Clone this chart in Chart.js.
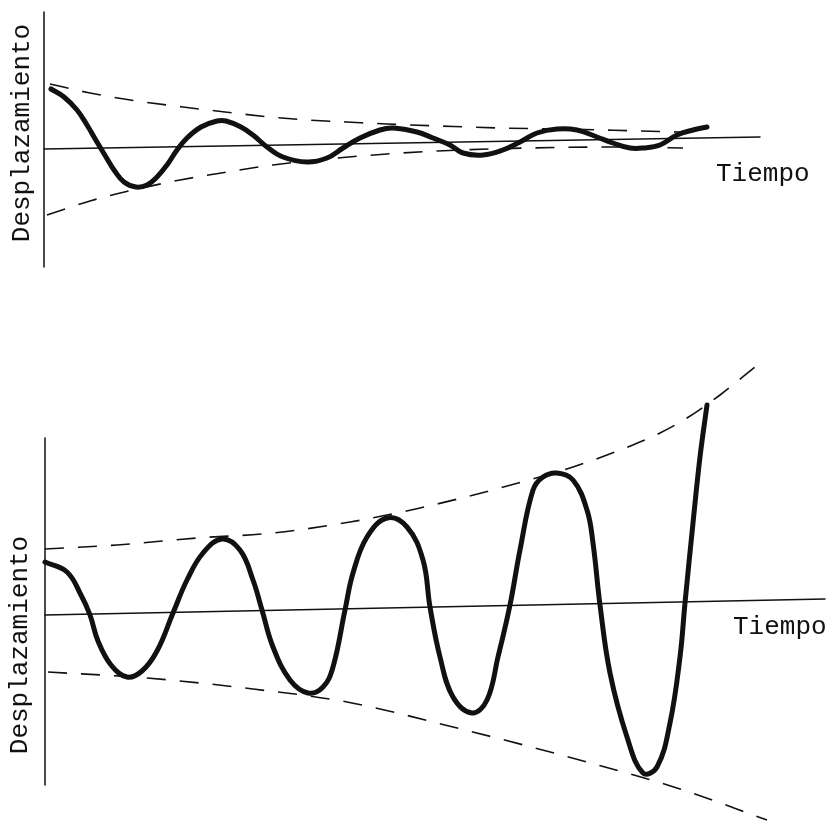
<!DOCTYPE html>
<html lang="es">
<head>
<meta charset="utf-8">
<title>Desplazamiento frente a tiempo</title>
<script src="https://cdn.jsdelivr.net/npm/chart.js@4.4.1/dist/chart.umd.min.js"></script>
<style>
  html, body { margin: 0; padding: 0; background: #fff; }
  #wrap { position: relative; width: 832px; height: 828px; }
  canvas { position: absolute; left: 0; }
  #topChart { top: 0; }
  #bottomChart { top: 300px; }
</style>
</head>
<body>
<div id="wrap">
  <canvas id="topChart" width="832" height="300"></canvas>
  <canvas id="bottomChart" width="832" height="528"></canvas>
</div>
<script>
// --- panel de arriba: oscilación amortiguada ---
const dampedT = [7, 20, 33, 43, 53, 62, 70, 80, 92, 103, 113, 123, 133, 143, 157, 173, 182, 197, 209, 223, 239, 263, 283, 299, 316, 336, 349, 373, 389, 406, 419, 439, 459, 476, 493, 513, 533, 553, 569, 586, 599, 616, 633, 649, 663];
const dampedD = [60, 52, 39, 24, 7, -8, -21, -33, -38, -36, -28, -16, -1, 11, 22, 28, 28, 22, 14, 2, -8, -13, -9, 1, 11, 19, 21, 17, 11, 4, -4, -6, -1, 7, 16, 20, 19, 12, 6, 1, 1, 4, 14, 19, 22];
const dampedUpperT = [6, 46, 93, 139, 181, 226, 263, 303, 343, 396, 456, 516, 596, 636];
const dampedUpperD = [65, 56, 48, 42, 37, 32, 29, 27, 25, 23, 21, 20, 18, 17];
const dampedLowerT = [3, 46, 89, 136, 183, 229, 293, 343, 393, 484, 566, 639];
const dampedLowerD = [-66, -52, -41, -31, -23, -16, -9, -5, -2, 1, 2, 1];
const topAxisT = [0, 0];
const topAxisD = [137, -118];
const topZeroT = [0, 716];
const topZeroD = [0, 12];

// --- panel de abajo: oscilación creciente ---
const growT = [0, 22, 36, 45, 53, 66, 82, 97, 112, 128, 142, 158, 177, 195, 208, 217, 228, 245, 263, 278, 288, 300, 308, 322, 342, 362, 378, 385, 395, 408, 427, 442, 453, 465, 475, 488, 498, 512, 528, 542, 548, 555, 565, 582, 598, 612, 625, 635, 640, 648, 655, 662];
const growD = [53, 43, 20, 0, -26, -50, -62, -56, -36, 2, 35, 62, 76, 65, 35, 5, -32, -65, -78, -72, -52, 5, 42, 78, 97, 88, 55, 8, -42, -82, -98, -85, -42, 10, 65, 125, 138, 142, 135, 105, 72, 10, -58, -122, -158, -152, -108, -42, 12, 92, 158, 210];
const growUpperT = [0, 72, 152, 228, 305, 375, 455, 528, 575, 615, 642, 675, 710];
const growUpperD = [66, 70, 77, 82, 93, 107, 127, 148, 165, 182, 197, 220, 248];
const growLowerT = [3, 102, 208, 302, 408, 542, 635, 722];
const growLowerD = [-57, -63, -74, -87, -112, -147, -174, -205];
const bottomAxisT = [0, 0];
const bottomAxisD = [177, -170];
const bottomZeroT = [0, 780];
const bottomZeroD = [0, 16];

const ink = '#111';

function pts(ts, ds) {
  return ts.map((t, i) => ({ x: t, y: ds[i] }));
}

function solid(ts, ds, width, smooth) {
  const d = {
    data: pts(ts, ds),
    borderColor: ink,
    borderWidth: width,
    pointRadius: 0,
    fill: false,
    tension: 0,
    borderCapStyle: 'round',
    borderJoinStyle: 'round',
    clip: false
  };
  if (smooth === 'monotone') d.cubicInterpolationMode = 'monotone';
  else if (smooth) d.tension = smooth;
  return d;
}

function dashed(ts, ds) {
  const d = solid(ts, ds, 1.6, 'monotone');
  d.borderDash = [19, 14];
  d.borderCapStyle = 'butt';
  return d;
}

// textos dibujados en coordenadas de datos
const textLabels = {
  id: 'textLabels',
  afterDatasetsDraw(chart, args, opts) {
    const { ctx, scales: { x, y } } = chart;
    ctx.save();
    ctx.fillStyle = ink;
    ctx.font = opts.font;
    ctx.textBaseline = 'middle';
    (opts.items || []).forEach(item => {
      ctx.save();
      ctx.translate(x.getPixelForValue(item.t), y.getPixelForValue(item.d));
      if (item.rotate) ctx.rotate(item.rotate);
      ctx.textAlign = item.align || 'left';
      ctx.fillText(item.text, 0, 0);
      ctx.restore();
    });
    ctx.restore();
  }
};

function makeChart(id, datasets, xr, yr, items) {
  return new Chart(document.getElementById(id), {
    type: 'line',
    data: { datasets },
    options: {
      responsive: false,
      animation: false,
      events: [],
      layout: { padding: 0 },
      scales: {
        x: { type: 'linear', min: xr[0], max: xr[1], display: false },
        y: { type: 'linear', min: yr[0], max: yr[1], display: false }
      },
      plugins: {
        legend: { display: false },
        tooltip: { enabled: false },
        textLabels: { font: '26px "Liberation Mono", "DejaVu Sans Mono", monospace', items }
      }
    },
    plugins: [textLabels]
  });
}

makeChart('topChart', [
  solid(topAxisT, topAxisD, 1.5),
  solid(topZeroT, topZeroD, 1.5),
  dashed(dampedUpperT, dampedUpperD),
  dashed(dampedLowerT, dampedLowerD),
  solid(dampedT, dampedD, 5, 0.4)
], [-44, 788], [-151, 149], [
  { text: 'Tiempo', t: 672, d: -25 },
  { text: 'Desplazamiento', t: -22, d: 16, rotate: -Math.PI / 2, align: 'center' }
]);

makeChart('bottomChart', [
  solid(bottomAxisT, bottomAxisD, 1.5),
  solid(bottomZeroT, bottomZeroD, 1.5),
  dashed(growUpperT, growUpperD),
  dashed(growLowerT, growLowerD),
  solid(growT, growD, 5, 0.4)
], [-45, 787], [-213, 315], [
  { text: 'Tiempo', t: 688, d: -12 },
  { text: 'Desplazamiento', t: -25, d: -30, rotate: -Math.PI / 2, align: 'center' }
]);
</script>
</body>
</html>
